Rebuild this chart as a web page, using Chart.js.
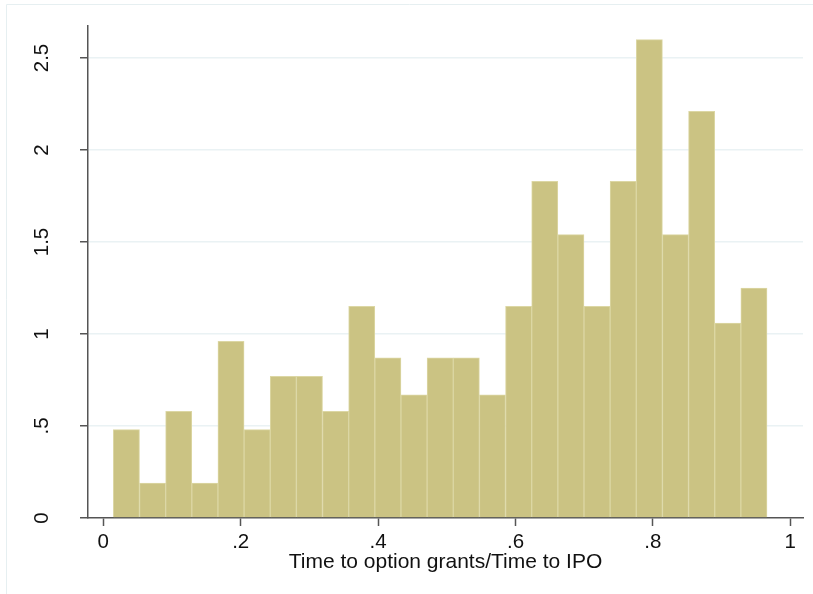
<!DOCTYPE html>
<html>
<head>
<meta charset="utf-8">
<script src="https://cdn.jsdelivr.net/npm/chart.js@4"></script>
<style>
  body { margin: 0; background: #fff; }
  canvas { display: block; }
</style>
</head>
<body>
<canvas id="chart" width="813" height="594"></canvas>
<script>
  // Histogram bins
  const binStart = 0.0146;
  const binWidth = 0.03806;
  const density = [0.48, 0.19, 0.58, 0.19, 0.96, 0.48, 0.77, 0.77, 0.58, 1.15,
                   0.87, 0.67, 0.87, 0.87, 0.67, 1.15, 1.83, 1.54, 1.15, 1.83,
                   2.60, 1.54, 2.21, 1.06, 1.25];

  // Axis ticks
  const xTickValues = [0, 0.2, 0.4, 0.6, 0.8, 1];
  const xTickLabels = ["0", ".2", ".4", ".6", ".8", "1"];
  const yTickValues = [0, 0.5, 1, 1.5, 2, 2.5];
  const yTickLabels = ["0", ".5", "1", "1.5", "2", "2.5"];
  const xTitle = "Time to option grants/Time to IPO";

  const points = density.map((d, i) => ({ x: binStart + binWidth * (i + 0.5), y: d }));

  // light outer frame of the graph region
  const frame = {
    id: "frame",
    beforeDraw(chart) {
      const c = chart.ctx;
      c.save();
      c.strokeStyle = "#e6eff1";
      c.lineWidth = 1;
      c.beginPath();
      c.moveTo(6.5, chart.height);
      c.lineTo(6.5, 4.5);
      c.lineTo(chart.width, 4.5);
      c.stroke();
      c.restore();
    }
  };

  const ctx = document.getElementById("chart").getContext("2d");
  new Chart(ctx, {
    type: "bar",
    data: {
      datasets: [{
        data: points,
        backgroundColor: "#cbc383",
        borderColor: "#dcd7a4",
        borderWidth: 1,
        barPercentage: 1,
        categoryPercentage: 1
      }]
    },
    plugins: [frame],
    options: {
      responsive: false,
      animation: false,
      layout: { padding: { left: 0, top: 26, right: 10, bottom: 0 } },
      plugins: {
        legend: { display: false },
        tooltip: { enabled: false }
      },
      scales: {
        x: {
          type: "linear",
          min: -0.0223,
          max: 1.0185,
          offset: false,
          afterBuildTicks: s => { s.ticks = xTickValues.map(v => ({ value: v })); },
          afterFit: s => { s.height = 76; s.paddingLeft = 0; s.paddingRight = 0; },
          grid: { drawOnChartArea: false, offset: false, tickLength: 8, tickColor: "#555", tickWidth: 1.5 },
          border: { display: true, color: "#555", width: 1.5 },
          ticks: {
            padding: 4,
            color: "#111",
            font: { family: "Liberation Sans, Arial", size: 20.5 },
            callback: (v, i) => xTickLabels[i]
          },
          title: {
            display: true,
            text: xTitle,
            color: "#111",
            font: { family: "Liberation Sans, Arial", size: 21 },
            padding: { top: 0, bottom: 19 }
          }
        },
        y: {
          min: 0,
          max: 2.674,
          afterBuildTicks: s => { s.ticks = yTickValues.map(v => ({ value: v })); },
          afterFit: s => { s.width = 88; s.paddingTop = 0; s.paddingBottom = 0; },
          grid: {
            color: c => c.tick && c.tick.value === 0 ? "rgba(0,0,0,0)" : "#eaf2f4",
            lineWidth: 1.5,
            tickLength: 8,
            tickColor: "#555",
            tickWidth: 1.5
          },
          border: { display: true, color: "#555", width: 1.5 },
          ticks: {
            minRotation: 90,
            maxRotation: 90,
            crossAlign: "center",
            padding: 23,
            color: "#111",
            font: { family: "Liberation Sans, Arial", size: 20.5 },
            callback: (v, i) => yTickLabels[i]
          }
        }
      }
    }
  });
</script>
</body>
</html>
